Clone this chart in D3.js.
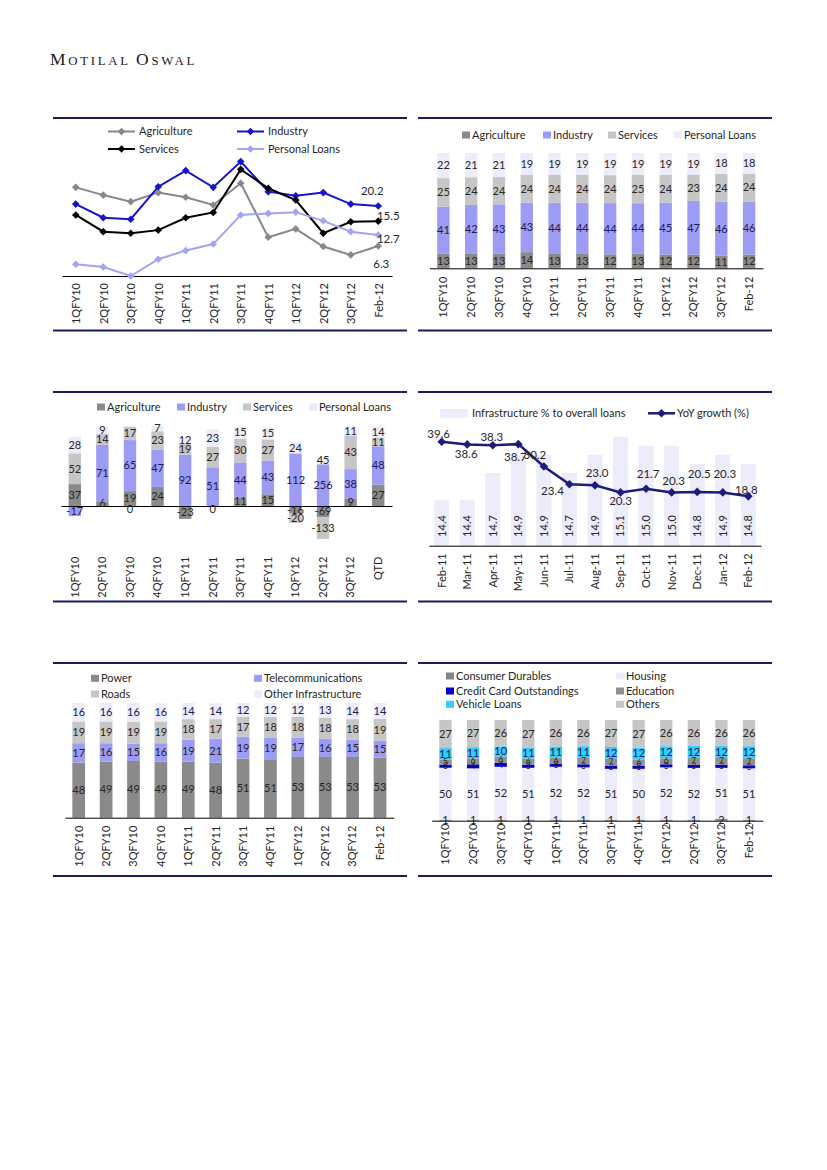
<!DOCTYPE html>
<html><head><meta charset="utf-8">
<script src="https://cdn.jsdelivr.net/npm/d3@7"></script>
<style>body{margin:0;background:#fff}svg{display:block}</style>
</head><body><svg id="c" width="827" height="1170"></svg>
<script>
// ---------------- DATA ----------------
const quarters = ['1QFY10','2QFY10','3QFY10','4QFY10','1QFY11','2QFY11','3QFY11','4QFY11','1QFY12','2QFY12','3QFY12','Feb-12'];
const quartersQTD = ['1QFY10','2QFY10','3QFY10','4QFY10','1QFY11','2QFY11','3QFY11','4QFY11','1QFY12','2QFY12','3QFY12','QTD'];
const months = ['Feb-11','Mar-11','Apr-11','May-11','Jun-11','Jul-11','Aug-11','Sep-11','Oct-11','Nov-11','Dec-11','Jan-12','Feb-12'];

// Chart 1: YoY growth (%) by sector
const growthAgriculture = [26.6,24.1,22.0,24.9,23.4,20.9,27.9,10.5,13.2,7.5,4.8,7.7];
const growthIndustry    = [21.2,16.8,16.3,26.8,32.0,26.6,34.9,25.2,23.9,24.9,21.2,20.6];
const growthServices    = [17.7,12.3,11.8,12.8,16.8,18.5,32.4,26.3,22.5,11.8,15.5,15.7];
const growthPersonal    = [1.8,0.9,-2.0,3.4,6.2,8.3,17.7,18.2,18.6,15.8,12.3,11.2];
const growthLatestLabels = ['6.3','20.2','15.5','12.7'];

// Chart 2: share of credit (%)
const shareAgriculture = [13,13,13,14,13,13,12,13,12,12,11,12];
const shareIndustry    = [41,42,43,43,44,44,44,44,45,47,46,46];
const shareServices    = [25,24,24,24,24,24,24,25,24,23,24,24];
const sharePersonal    = [22,21,21,19,19,19,19,19,19,19,18,18];

// Chart 3: share of incremental credit (%) and relative size of quarterly increment
const incAgriculture = [37,6,19,24,-23,0,11,15,-16,-69,9,27];
const incIndustry    = [-17,71,65,47,92,51,44,43,112,256,38,48];
const incServices    = [52,14,17,23,19,27,30,27,-20,-133,43,11];
const incPersonal    = [28,9,0,7,12,23,15,15,24,45,11,14];
const incrementSize  = [592,793,785,795,560,759,793,783,470,163,785,796];

// Chart 4: infrastructure
const infraShare  = [14.4,14.4,14.7,14.9,14.9,14.7,14.9,15.1,15.0,15.0,14.8,14.9,14.8];
const infraGrowth = [39.6,38.6,38.3,38.7,30.2,23.4,23.0,20.3,21.7,20.3,20.5,20.3,18.8];

// Chart 5: infrastructure mix (%)
const mixPower   = [48,49,49,49,49,48,51,51,53,53,53,53];
const mixTelecom = [17,16,15,16,19,21,19,19,17,16,15,15];
const mixRoads   = [19,19,19,19,18,17,17,18,18,18,18,19];
const mixOther   = [16,16,16,16,14,14,12,12,12,13,14,14];

// Chart 6: personal loan mix (%)
const plConsumerDurables = [1,1,1,1,1,1,1,1,1,1,2,1];
const plHousing          = [50,51,52,51,52,52,51,50,52,52,51,51];
const plCreditCard       = [3,4,4,3,3,3,3,3,3,3,3,3];
const plEducation        = [5,6,6,6,6,7,7,6,6,7,7,7];
const plVehicle          = [11,11,10,11,11,11,12,12,12,12,12,12];
const plOthers           = [27,27,26,27,26,26,27,27,26,26,26,26];

// ---------------- STYLE ----------------
const FONT = "Lato, 'Liberation Sans', sans-serif";
const NAVY = '#1b1b5e';
const C_AGRI = '#8a8a8a', C_IND = '#9c9cf5', C_SERV = '#c6c6c6', C_PERS = '#ececfb';
const TXT = '#262626';

const svg = d3.select('#c');
svg.append('rect').attr('width',827).attr('height',1170).attr('fill','#fff');

// Header
const hdr = svg.append('text').attr('x',50).attr('y',64.5)
  .attr('font-family',"'Liberation Serif','DejaVu Serif',serif").attr('fill','#1a1a1a')
  .attr('letter-spacing',2.7);
[['M',17.5],['OTILAL ',12.8],['O',17.5],['SWAL',12.8]].forEach(([t,s]) => hdr.append('tspan').attr('font-size',s).text(t));

// panel rules
[[118,330.5],[392,601.5],[663,876]].forEach(([a,b]) => {
  [[53,407],[418,772]].forEach(([x0,x1]) => {
    [a,b].forEach(y => svg.append('line').attr('x1',x0).attr('x2',x1).attr('y1',y).attr('y2',y)
      .attr('stroke',NAVY).attr('stroke-width',2));
  });
});

function xAxis(g, scale, y, gap) {
  const a = g.append('g').attr('transform',`translate(0,${y})`)
    .call(d3.axisBottom(scale).tickSize(0).tickSizeOuter(0));
  a.attr('font-family',FONT).attr('font-size',11);
  a.select('.domain').attr('stroke','#000').attr('stroke-width',1);
  a.selectAll('text').attr('transform','rotate(-90)').attr('text-anchor','end')
    .attr('x',-gap).attr('y',0).attr('dy','0.35em').attr('fill',TXT);
  return a;
}
const diamond = r => `M0,${-r}L${r},0L0,${r}L${-r},0Z`;

function text(g, x, y, t, opts={}) {
  return g.append('text').attr('x',x).attr('y',y).attr('dy','0.35em')
    .attr('font-family',FONT).attr('font-size',opts.size||11).attr('fill',opts.fill||TXT)
    .attr('text-anchor',opts.anchor||'start').text(t);
}
function sqLegend(g, x, y, color, label) {
  g.append('rect').attr('x',x).attr('y',y-3.5).attr('width',8).attr('height',7).attr('fill',color);
  text(g, x+10, y, label);
}
// 100% stacked bars
function pctStack(g, cats, keys, src, colors, x, y, labelOpts) {
  const rows = cats.map((c,i)=>{const r={cat:c}; keys.forEach((k,j)=>r[k]=src[j][i]); return r;});
  const st = d3.stack().keys(keys).offset(d3.stackOffsetExpand)(rows);
  st.forEach((s,si) => {
    g.selectAll(null).data(s).join('rect').attr('x',d=>x(d.data.cat)).attr('width',x.bandwidth())
      .attr('y',d=>y(d[1])).attr('height',d=>y(d[0])-y(d[1])).attr('fill',colors[si]);
  });
  st.forEach((s,si) => s.forEach(d => text(g, x(d.data.cat)+x.bandwidth()/2, (y(d[0])+y(d[1]))/2,
    d.data[keys[si]], Object.assign({anchor:'middle'}, labelOpts ? labelOpts(si) : {}))));
}

// ---------------- CHART 1 ----------------
{
  const g = svg.append('g');
  const x = d3.scalePoint().domain(quarters).range([62,392]).padding(0.5);
  const y = d3.scaleLinear().domain([-2,36]).range([276,158.2]);
  xAxis(g, x, 276, 7);
  const series = [
    {name:'Agriculture', vals:growthAgriculture, color:'#888888', off:[3,18]},
    {name:'Industry', vals:growthIndustry, color:'#1414cc', off:[-6,-15]},
    {name:'Services', vals:growthServices, color:'#000000', off:[10,-5]},
    {name:'Personal Loans', vals:growthPersonal, color:'#a3a3f3', off:[10,4]}
  ];
  const line = d3.line().x((d,i)=>x(quarters[i])).y(d=>y(d));
  series.forEach((s,si) => {
    g.append('path').attr('d',line(s.vals)).attr('fill','none').attr('stroke',s.color).attr('stroke-width',2);
    g.selectAll(null).data(s.vals).join('path')
      .attr('d',diamond(3.8)).attr('transform',(d,i)=>`translate(${x(quarters[i])},${y(d)})`).attr('fill',s.color);
    const last = s.vals.length-1;
    text(g, x(quarters[last])+s.off[0], y(s.vals[last])+s.off[1], growthLatestLabels[si], {anchor:'middle', size:11.5});
  });
  const leg = [['Agriculture','#888888',108,131.5],['Industry','#1414cc',237,131.5],['Services','#000000',108,149],['Personal Loans','#a3a3f3',237,149]];
  leg.forEach(([n,c,lx,ly]) => {
    g.append('line').attr('x1',lx).attr('x2',lx+27).attr('y1',ly).attr('y2',ly).attr('stroke',c).attr('stroke-width',2);
    g.append('path').attr('d',diamond(3.8)).attr('transform',`translate(${lx+13.5},${ly})`).attr('fill',c);
    text(g, lx+31, ly, n);
  });
}

// ---------------- CHART 2 ----------------
{
  const g = svg.append('g');
  const x = d3.scaleBand().domain(quarters).range([429.5,763]).paddingInner(0.555).paddingOuter(0.2775);
  const y = d3.scaleLinear().domain([0,1]).range([268.3,153]);
  pctStack(g, quarters, ['Agriculture','Industry','Services','Personal Loans'],
    [shareAgriculture, shareIndustry, shareServices, sharePersonal], [C_AGRI, C_IND, C_SERV, C_PERS], x, y,
    si => ({fill: si===1 ? '#1a1a55' : TXT}));
  xAxis(g, x, 268.3, 8.4);
  sqLegend(g, 462, 135, C_AGRI, 'Agriculture');
  sqLegend(g, 543, 135, C_IND, 'Industry');
  sqLegend(g, 608, 135, C_SERV, 'Services');
  sqLegend(g, 674, 135, C_PERS, 'Personal Loans');
}

// ---------------- CHART 3 ----------------
{
  const g = svg.append('g');
  const x = d3.scaleBand().domain(quartersQTD).range([61,392]).paddingInner(0.55).paddingOuter(0.275);
  const y = d3.scaleLinear().domain([0,1000]).range([506,406]);
  const keys = ['Agriculture','Industry','Services','Personal Loans'];
  const src = [incAgriculture, incIndustry, incServices, incPersonal];
  const colors = [C_AGRI, C_IND, C_SERV, C_PERS];
  const rows = quartersQTD.map((c,i)=>{const r={cat:c, i}; keys.forEach((k,j)=>r[k]=src[j][i]*incrementSize[i]/100); return r;});
  const st = d3.stack().keys(keys).offset(d3.stackOffsetDiverging)(rows);
  st.forEach((s,si) => {
    g.selectAll(null).data(s).join('rect').attr('x',d=>x(d.data.cat)).attr('width',x.bandwidth())
      .attr('y',d=>y(Math.max(d[0],d[1]))).attr('height',d=>Math.abs(y(d[0])-y(d[1]))).attr('fill',colors[si]);
  });
  xAxis(g, x, 506, 50.7);
  st.forEach((s,si) => {
    s.forEach(d => text(g, x(d.data.cat)+x.bandwidth()/2, (y(d[0])+y(d[1]))/2 + (d[0]===d[1]?3:0), src[si][d.data.i], {anchor:'middle', fill: si===1?'#1a1a55':TXT}));
  });
  sqLegend(g, 97, 407, C_AGRI, 'Agriculture');
  sqLegend(g, 177, 407, C_IND, 'Industry');
  sqLegend(g, 243, 407, C_SERV, 'Services');
  sqLegend(g, 309, 407, C_PERS, 'Personal Loans');
}

// ---------------- CHART 4 ----------------
{
  const g = svg.append('g');
  const x = d3.scaleBand().domain(months).range([428.9,761.1]).paddingInner(0.413).paddingOuter(0.2065);
  const yL = d3.scaleLinear().domain([13.9,15.2]).range([545.7,427.6]);
  const yR = d3.scaleLinear().domain([0,45]).range([545.7,427.6]);
  g.selectAll(null).data(infraShare).join('rect').attr('x',(d,i)=>x(months[i])).attr('width',x.bandwidth())
    .attr('y',d=>yL(d)).attr('height',d=>yL.range()[0]-yL(d)).attr('fill',C_PERS);
  infraShare.forEach((d,i) => {
    g.append('text').attr('transform',`translate(${x(months[i])+x.bandwidth()/2},526) rotate(-90)`)
      .attr('text-anchor','middle').attr('dy','0.35em').attr('font-family',FONT).attr('font-size',11)
      .attr('fill',TXT).text(d.toFixed(1));
  });
  xAxis(g, x, 545.7, 7.6);
  const cx = i => x(months[i])+x.bandwidth()/2;
  const LC = '#1c1c7a';
  g.append('path').attr('d',d3.line().x((d,i)=>cx(i)).y(d=>yR(d))(infraGrowth)).attr('fill','none')
    .attr('stroke',LC).attr('stroke-width',2.5);
  g.selectAll(null).data(infraGrowth).join('path').attr('d',diamond(4.3))
    .attr('transform',(d,i)=>`translate(${cx(i)},${yR(d)})`).attr('fill',LC);
  const off = [[-3,-8],[-1,10],[-1,-8],[-3,13],[-9,-11],[-17,7],[2,-12],[0,9],[2,-15],[2,-11],[2,-18],[2,-18],[-2,-6]];
  infraGrowth.forEach((d,i) => text(g, cx(i)+off[i][0], yR(d)+off[i][1], d.toFixed(1), {anchor:'middle', size:11.5}));
  g.append('rect').attr('x',440).attr('y',409).attr('width',28).attr('height',8.5).attr('fill',C_PERS);
  text(g, 472, 413.3, 'Infrastructure % to overall loans');
  g.append('line').attr('x1',648).attr('x2',675).attr('y1',413.3).attr('y2',413.3).attr('stroke',LC).attr('stroke-width',2.5);
  g.append('path').attr('d',diamond(4.3)).attr('transform','translate(661.5,413.3)').attr('fill',LC);
  text(g, 677, 413.3, 'YoY growth (%)');
}

// ---------------- CHART 5 ----------------
{
  const g = svg.append('g');
  const x = d3.scaleBand().domain(quarters).range([65,393.7]).paddingInner(0.536).paddingOuter(0.268);
  const y = d3.scaleLinear().domain([0,1]).range([817.7,703.1]);
  pctStack(g, quarters, ['Power','Telecommunications','Roads','Other Infrastructure'],
    [mixPower, mixTelecom, mixRoads, mixOther], [C_AGRI, C_IND, C_SERV, C_PERS], x, y,
    si => ({fill: si===3 ? '#1a1a55' : TXT}));
  xAxis(g, x, 817.7, 8);
  sqLegend(g, 91, 678.3, C_AGRI, 'Power');
  sqLegend(g, 91, 694, C_SERV, 'Roads');
  sqLegend(g, 254, 678.3, C_IND, 'Telecommunications');
  sqLegend(g, 254, 694, C_PERS, 'Other Infrastructure');
}

// ---------------- CHART 6 ----------------
{
  const g = svg.append('g');
  const x = d3.scaleBand().domain(quarters).range([431.7,762.8]).paddingInner(0.554).paddingOuter(0.277);
  const y = d3.scaleLinear().domain([0,1]).range([820.7,720]);
  const colors = ['#858585', C_PERS, '#0000d0', '#909090', '#33ccff', C_SERV];
  pctStack(g, quarters, ['Consumer Durables','Housing','Credit Card Outstandings','Education','Vehicle Loans','Others'],
    [plConsumerDurables, plHousing, plCreditCard, plEducation, plVehicle, plOthers], colors, x, y,
    si => ({size: (si===2||si===3) ? 8.5 : 11, fill: si===4 ? '#1a1a55' : TXT}));
  xAxis(g, x, 820.7, 3);
  sqLegend(g, 446, 676, '#858585', 'Consumer Durables');
  sqLegend(g, 446, 691, '#0000d0', 'Credit Card Outstandings');
  sqLegend(g, 446, 704.3, '#33ccff', 'Vehicle Loans');
  sqLegend(g, 616, 676, C_PERS, 'Housing');
  sqLegend(g, 616, 691, '#909090', 'Education');
  sqLegend(g, 616, 704.3, C_SERV, 'Others');
}
</script></body></html>
